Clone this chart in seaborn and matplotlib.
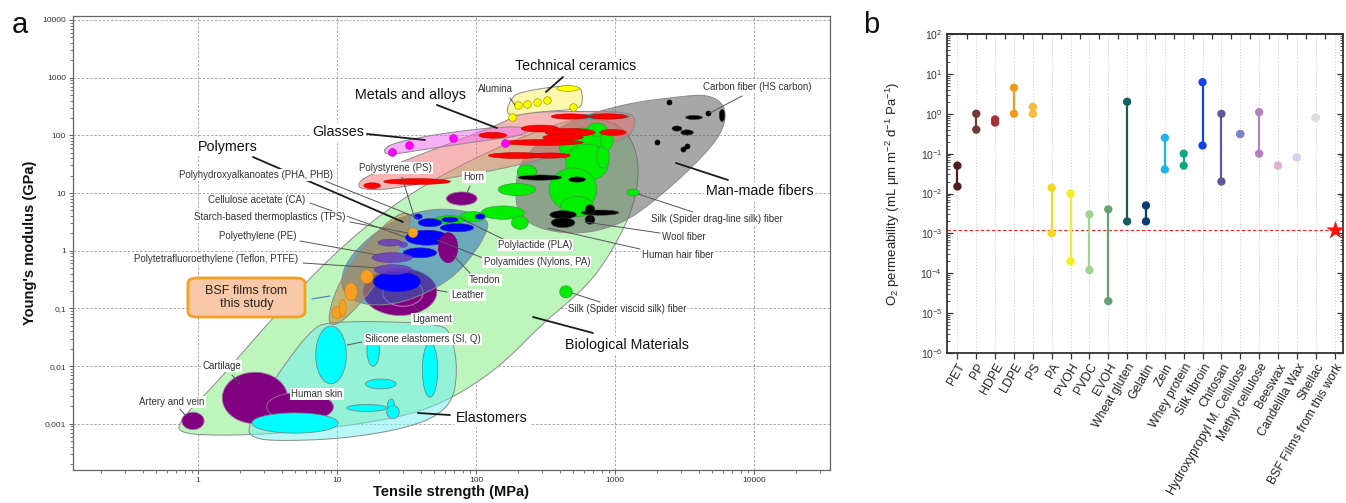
import numpy as np
import pandas as pd
import matplotlib
matplotlib.use("Agg")
import matplotlib.pyplot as plt
import seaborn as sns
from matplotlib.patches import FancyBboxPatch
from matplotlib.ticker import LogLocator, FixedLocator, FixedFormatter, NullFormatter

# ---------------- Panel a data (Ashby chart, strength MPa / modulus GPa) ----------------
# envelope outlines
bio_S = [0.72, 1.70, 5.42, 28.4, 65, 149, 303, 629, 968, 1393, 1513, 1180, 718, 402, 90.5, 28.4, 10.5, 3.7, 1.32, 0.74]
bio_E = [0.00067, 0.00062, 0.00072, 0.00126, 0.00259, 0.0097, 0.056, 0.237, 1.04, 6.3, 38, 137, 204, 174, 38, 7.7, 1.13, 0.084, 0.0047, 0.00116]
elas_S = [2.25, 2.45, 3.89, 12.4, 39.5, 67, 74, 67, 55, 8.9, 6.4, 3.3]
elas_E = [0.00088, 0.00056, 0.0005, 0.00056, 0.00095, 0.0021, 0.0086, 0.035, 0.056, 0.061, 0.042, 0.0047]
poly_S = [126, 116, 76.7, 46.7, 26, 14.6, 10.5, 11.4, 18.8, 33.5, 65]
poly_E = [3.74, 1.68, 0.43, 0.194, 0.115, 0.115, 0.21, 0.64, 2.14, 4.57, 5.58]
bsf_S = [8.5, 9.7, 12.4, 20.4, 30.8, 34.7, 30.8, 24, 14.6, 9.7]
bsf_E = [0.058, 0.05, 0.077, 0.314, 1.55, 3.74, 4.75, 3.45, 1.04, 0.21]
fiber_S = [191, 207, 402, 1087, 2937, 4820, 6390, 5890, 3467, 1786, 1087, 560, 289, 200]
fiber_E = [11.5, 38, 154, 343, 472, 511, 304, 103, 25.5, 6.3, 2.83, 1.9, 2.32, 4.2]
metal_S = [14.2, 17.3, 39.5, 149, 207, 402, 1282, 1439, 1241, 560, 149, 55, 24, 14.6]
metal_E = [15.2, 20.9, 46.4, 154, 249, 259, 259, 174, 84.6, 56.7, 25.5, 17.1, 11.5, 11.5]
glass_S = [21.4, 26, 55, 149, 245, 225, 90.5, 33.5, 23]
glass_E = [56.7, 75, 107, 142, 137, 100, 75, 52, 45]
ceram_S = [162, 176, 207, 560, 589, 560, 289]
ceram_E = [204, 418, 576, 795, 418, 281, 259]

# individual materials: centre strength, centre modulus, spread (decades) in strength / modulus
red_S = [17.9, 37.7, 132, 475, 891, 289, 475, 423, 968, 303, 197, 341]
red_E = [13.4, 15.8, 100, 212, 212, 131, 112, 92, 112, 75, 44.6, 44.6]
red_dS = [0.12, 0.48, 0.20, 0.27, 0.27, 0.27, 0.36, 0.29, 0.19, 0.58, 0.41, 0.29]
red_dE = [0.10, 0.10, 0.10, 0.09, 0.09, 0.12, 0.14, 0.10, 0.10, 0.10, 0.10, 0.09]
teal_S, teal_E, teal_dS, teal_dE = [820], [212], [0.38], [0.09]
alu_big_S, alu_big_E, alu_big_dS, alu_big_dE = [459], [649], [0.16], [0.10]
nat_S = [233, 197, 589, 629, 499, 533, 156, 95, 207, 820, 876, 1349, 65, 743, 444]
nat_E = [23.5, 11.5, 64, 33.7, 11.5, 5.8, 4.57, 3.9, 3.06, 42.9, 84.6, 10.2, 3.45, 126, 0.194]
nat_dS = [0.14, 0.27, 0.34, 0.31, 0.34, 0.24, 0.31, 0.19, 0.12, 0.09, 0.09, 0.09, 0.22, 0.14, 0.09]
nat_dE = [0.23, 0.21, 0.64, 0.64, 0.75, 0.35, 0.23, 0.17, 0.23, 0.40, 0.35, 0.12, 0.14, 0.23, 0.21]
mm_S = [289, 533, 423, 423, 780, 661, 661, 3700, 5890, 2790, 3300]
mm_E = [18.5, 17.1, 4.2, 3.06, 4.57, 5.15, 3.45, 204, 221, 131, 112]
mm_dS = [0.31, 0.12, 0.19, 0.17, 0.27, 0.07, 0.07, 0.12, 0.04, 0.07, 0.09]
mm_dE = [0.09, 0.09, 0.14, 0.17, 0.09, 0.17, 0.16, 0.07, 0.21, 0.09, 0.09]
blue_S = [38.3, 46.7, 65, 107, 73, 44.4, 39.5, 27]
blue_E = [3.9, 3.06, 3.45, 3.9, 2.5, 1.68, 0.92, 0.29]
blue_dS = [0.06, 0.17, 0.12, 0.07, 0.24, 0.31, 0.24, 0.34]
blue_dE = [0.09, 0.14, 0.09, 0.09, 0.14, 0.26, 0.17, 0.35]
pe_S = [24, 24.9, 25.3, 30]
pe_E = [1.38, 0.76, 0.47, 1.27]
pe_dS = [0.17, 0.29, 0.27, 0.06]
pe_dE = [0.12, 0.17, 0.17, 0.09]
tissue_S = [79, 28.4, 2.57, 5.42, 0.92]          # horn, leather, cartilage, human skin, artery
tissue_E = [8.0, 0.194, 0.0028, 0.00196, 0.00112]
tissue_dS = [0.22, 0.53, 0.47, 0.48, 0.16]
tissue_dE = [0.23, 0.82, 0.89, 0.50, 0.30]
tendon_S, tendon_E, tendon_dS, tendon_dE = [63], [1.13], [0.14], [0.52]
ligament_S, ligament_E, ligament_dS, ligament_dE = [29.8], [0.187], [0.29], [0.47]
cy_S = [4.99, 9.06, 18.2, 20.7, 16.4, 24.5, 25.3, 46.7]
cy_E = [0.00103, 0.0156, 0.0191, 0.0049, 0.00188, 0.0021, 0.0016, 0.0086]
cy_dS = [0.62, 0.22, 0.09, 0.22, 0.29, 0.05, 0.09, 0.11]
cy_dE = [0.35, 1.0, 0.57, 0.17, 0.12, 0.21, 0.23, 0.95]
bsfpt_S = [10, 11, 12.6, 16.4, 35.2]
bsfpt_E = [0.084, 0.102, 0.194, 0.354, 2.05]
bsfpt_dS = [0.07, 0.05, 0.09, 0.09, 0.07]
bsfpt_dE = [0.21, 0.30, 0.31, 0.23, 0.17]
alumina_S = [182, 200, 233, 275, 324, 499]
alumina_E = [204, 329, 343, 371, 402, 304]
glassdot_S = [24.9, 33, 68, 162]
glassdot_E = [52, 69, 91.6, 75]
carbon_S = [2445, 4670, 2005, 3300, 3085]
carbon_E = [371, 239, 78, 66.5, 59]

x_ticks_a = [1, 10, 100, 1000, 10000]
x_ticklabels_a = ["1", "10", "100", "1000", "10000"]
y_ticks_a = [0.001, 0.01, 0.1, 1, 10, 100, 1000, 10000]
y_ticklabels_a = ["0,001", "0,01", "0,1", "1", "10", "100", "1000", "10000"]

# ---------------- Panel b data (O2 permeability) ----------------
materials = ["PET", "PP", "HDPE", "LDPE", "PS", "PA", "PVOH", "PVDC", "EVOH", "Wheat gluten",
             "Gelatin", "Zein", "Whey protein", "Silk fibroin", "Chitosan",
             "Hydroxypropyl M. Cellulose", "Methyl cellulose", "Beeswax", "Candelilla Wax",
             "Shellac", "BSF Films from this work"]
perm_high = [0.05, 1.0, 0.72, 4.5, 1.5, 0.014, 0.01, 0.003, 0.004, 2.0, 0.005, 0.25, 0.1, 6.2,
             1.0, 0.31, 1.1, 0.05, 0.08, 0.8, 1.25e-3]
perm_low = [0.015, 0.4, 0.6, 1.0, 1.0, 0.001, 2e-4, 1.2e-4, 2e-5, 0.002, 0.002, 0.04, 0.05, 0.16,
            0.02, 0.31, 0.1, 0.05, 0.08, 0.8, 1.25e-3]
mat_colors = ["#4f1f1f", "#6e3c34", "#a5303a", "#ef9a1a", "#f8bb3c", "#f2d81e", "#f0f020",
              "#a3d392", "#67a070", "#165e5c", "#0b3d6e", "#1fb3e6", "#13a884", "#1442e6",
              "#62579a", "#7a86c8", "#b57fc0", "#e3b3d6", "#dcd2f0", "#d8e0e4", "#ff0000"]

# ---------------- style ----------------
sns.set_theme(style="ticks")
plt.rcParams["font.family"] = ["Liberation Sans", "DejaVu Sans"]
plt.rcParams["mathtext.fontset"] = "custom"
plt.rcParams["mathtext.rm"] = "Liberation Sans"
plt.rcParams["mathtext.it"] = "Liberation Sans:italic"
plt.rcParams["mathtext.bf"] = "Liberation Sans:bold"

fig = plt.figure(figsize=(13.46, 5.03), dpi=100)
ax = fig.add_axes([0.0542, 0.0656, 0.5624, 0.9026])
axb = fig.add_axes([0.7036, 0.2982, 0.2942, 0.6342])


def chaikin(xs, ys, n=3):
    p = np.column_stack([xs, ys])
    for _ in range(n):
        q = np.roll(p, -1, axis=0)
        a = 0.75 * p + 0.25 * q
        b = 0.25 * p + 0.75 * q
        p = np.empty((2 * len(a), 2))
        p[0::2] = a
        p[1::2] = b
    return p[:, 0], p[:, 1]


def envelope(S, E, fc, alpha, z, ec="#8a8a8a"):
    lx, ly = chaikin(np.log10(S), np.log10(E))
    ax.fill(10 ** lx, 10 ** ly, fc=fc, alpha=alpha, ec="none", zorder=z)
    ax.plot(10 ** np.append(lx, lx[0]), 10 ** np.append(ly, ly[0]), color=ec, lw=0.7, zorder=z)


T = np.linspace(0, 2 * np.pi, 90)


def ellipses(S, E, dS, dE, fc, ec, lw=0.5, alpha=1.0, z=3.0):
    for s, e, w, h in zip(S, E, dS, dE):
        lx = np.log10(s) + w / 2 * np.cos(T)
        ly = np.log10(e) + h / 2 * np.sin(T)
        ax.fill(10 ** lx, 10 ** ly, fc=fc, ec=ec, lw=lw, alpha=alpha, zorder=z)


ax.set_xscale("log")
ax.set_yscale("log")
ax.set_xlim(0.126, 35200)
ax.set_ylim(1.58e-4, 11700)

# envelopes
envelope(bio_S, bio_E, "#bdf5bd", 1.0, 1.0)
envelope(elas_S, elas_E, "#70f0f0", 0.5, 1.1)
envelope(fiber_S, fiber_E, "#606060", 0.55, 1.2)
envelope(metal_S, metal_E, "#f07070", 0.5, 1.3)
envelope(glass_S, glass_E, "#f070f0", 0.55, 1.4)
envelope(ceram_S, ceram_E, "#fbf59a", 0.8, 1.5)

# biological tissues and elastomers
ellipses(tissue_S, tissue_E, tissue_dS, tissue_dE, "#800080", "#a070a0", lw=0.6, z=2.0)
ellipses(ligament_S, ligament_E, ligament_dS, ligament_dE, "none", "#c070c0", lw=0.8, z=2.1)
ellipses(cy_S, cy_E, cy_dS, cy_dE, "#00ffff", "#6a8a8a", lw=0.6, z=2.2)

envelope(poly_S, poly_E, "#2a6cb8", 0.55, 2.5)
envelope(bsf_S, bsf_E, "#c08040", 0.55, 2.6)

ellipses(nat_S, nat_E, nat_dS, nat_dE, "#00ee00", "#3c9a3c", lw=0.5, z=3.0)
ellipses(mm_S, mm_E, mm_dS, mm_dE, "#000000", "#333333", lw=0.4, z=3.1)
ellipses(blue_S, blue_E, blue_dS, blue_dE, "#0000ff", "#2a2aa0", lw=0.4, z=3.2)
ellipses(pe_S, pe_E, pe_dS, pe_dE, "#6a3cc0", "#5030a0", lw=0.4, alpha=0.85, z=3.3)
ellipses(tendon_S, tendon_E, tendon_dS, tendon_dE, "#800080", "#800080", lw=0.4, z=3.4)
ellipses(teal_S, teal_E, teal_dS, teal_dE, "#1aa0a0", "#1aa0a0", lw=0.4, z=3.5)
ellipses(red_S, red_E, red_dS, red_dE, "#ff0000", "#c00000", lw=0.4, z=3.6)
ellipses(alu_big_S, alu_big_E, alu_big_dS, alu_big_dE, "#ffff00", "#a0a000", lw=0.5, z=3.6)
ellipses(bsfpt_S, bsfpt_E, bsfpt_dS, bsfpt_dE, "#f5a020", "#d08010", lw=0.4, z=3.7)

sns.scatterplot(x=alumina_S, y=alumina_E, s=30, color="#ffff00", edgecolor="#a0a000",
                linewidth=0.5, ax=ax, zorder=4, legend=False)
sns.scatterplot(x=glassdot_S, y=glassdot_E, s=32, color="#ff00ff", edgecolor="#c000c0",
                linewidth=0.4, ax=ax, zorder=4, legend=False)
sns.scatterplot(x=carbon_S, y=carbon_E, s=14, color="#000000", edgecolor="#000000",
                linewidth=0.3, ax=ax, zorder=4, legend=False)

# axes formatting
ax.xaxis.set_major_locator(FixedLocator(x_ticks_a))
ax.xaxis.set_major_formatter(FixedFormatter(x_ticklabels_a))
ax.yaxis.set_major_locator(FixedLocator(y_ticks_a))
ax.yaxis.set_major_formatter(FixedFormatter(y_ticklabels_a))
ax.xaxis.set_minor_locator(LogLocator(base=10, subs=np.arange(2, 10), numticks=30))
ax.yaxis.set_minor_locator(LogLocator(base=10, subs=np.arange(2, 10), numticks=30))
ax.xaxis.set_minor_formatter(NullFormatter())
ax.yaxis.set_minor_formatter(NullFormatter())
ax.tick_params(which="both", direction="out", labelsize=6, colors="#444444",
               labelcolor="#333333", bottom=True, left=True, top=False, right=False)
ax.tick_params(which="major", length=3, width=0.6, pad=2)
ax.tick_params(which="minor", length=2, width=0.5)
ax.set_axisbelow(True)
ax.grid(True, which="major", ls=(0, (3, 2)), color="#9a9a9a", lw=0.6)
for sp in ax.spines.values():
    sp.set_color("#666666")
    sp.set_linewidth(0.9)
    sp.set_visible(True)
ax.set_xlabel("Tensile strength (MPa)", fontsize=10.5, fontweight="bold", color="#111111")
ax.set_ylabel("Young's modulus (GPa)", fontsize=10.5, fontweight="bold", color="#111111")
ax.xaxis.set_label_coords(0.499, -0.033)
ax.yaxis.set_label_coords(-0.048, 0.5)

# labels (axes-fraction layout positions)
box = dict(boxstyle="square,pad=0.12", fc="white", ec="none")
big_labels = [
    ("Technical ceramics", 0.6645, 0.8899),
    ("Metals and alloys", 0.4452, 0.8260),
    ("Glasses", 0.3501, 0.7445),
    ("Polymers", 0.2048, 0.7115),
    ("Man-made fibers", 0.9075, 0.6145),
    ("Biological Materials", 0.7318, 0.2753),
    ("Elastomers", 0.5535, 0.1145),
]
small_labels = [
    ("Alumina", 0.5588, 0.8392),
    ("Carbon fiber (HS carbon)", 0.9036, 0.8436),
    ("Polyhydroxyalkanoates (PHA, PHB)", 0.2417, 0.6498),
    ("Cellulose acetate (CA)", 0.2431, 0.5947),
    ("Starch-based thermoplastics (TPS)", 0.2602, 0.5573),
    ("Polyethylene (PE)", 0.2444, 0.5154),
    ("Polytetrafluoroethylene (Teflon, PTFE)", 0.1889, 0.4648),
    ("Polystyrene (PS)", 0.4254, 0.6652),
    ("Horn", 0.5297, 0.6454),
    ("Polylactide (PLA)", 0.6103, 0.4956),
    ("Polyamides (Nylons, PA)", 0.6129, 0.4581),
    ("Tendon", 0.5443, 0.4185),
    ("Leather", 0.5218, 0.3855),
    ("Ligament", 0.4742, 0.3326),
    ("Silicone elastomers (SI, Q)", 0.4624, 0.2885),
    ("Cartilage", 0.1968, 0.2291),
    ("Human skin", 0.3223, 0.1674),
    ("Artery and vein", 0.1308, 0.1498),
    ("Silk (Spider viscid silk) fiber", 0.7318, 0.3546),
    ("Human hair fiber", 0.7992, 0.4736),
    ("Wool fiber", 0.8071, 0.5132),
    ("Silk (Spider drag-line silk) fiber", 0.8507, 0.5529),
]
thick_leaders = [
    ((0.6473, 0.8656), (0.6248, 0.8326)),
    ((0.4808, 0.8040), (0.5601, 0.7533)),
    ((0.3884, 0.7401), (0.4650, 0.7269)),
    ((0.2378, 0.6894), (0.4359, 0.5463)),
    ((0.8653, 0.6388), (0.7966, 0.6762)),
    ((0.6869, 0.3018), (0.6077, 0.3370)),
    ((0.4980, 0.1211), (0.4557, 0.1256)),
]
thin_leaders = [
    ((0.5773, 0.8194), (0.5839, 0.8040)),
    ((0.8838, 0.8238), (0.8415, 0.7863)),
    ((0.3329, 0.6366), (0.4557, 0.5551)),
    ((0.3131, 0.5881), (0.4386, 0.5132)),
    ((0.3659, 0.5463), (0.4425, 0.5220)),
    ((0.2999, 0.5044), (0.4029, 0.4736)),
    ((0.3038, 0.4559), (0.4055, 0.4449)),
    ((0.4346, 0.6454), (0.4505, 0.5595)),
    ((0.5244, 0.6256), (0.5205, 0.6101)),
    ((0.5707, 0.5066), (0.5112, 0.5551)),
    ((0.5416, 0.4670), (0.4808, 0.5066)),
    ((0.5244, 0.4339), (0.5020, 0.4736)),
    ((0.4941, 0.3921), (0.4795, 0.3965)),
    ((0.4584, 0.3480), (0.4478, 0.3634)),
    ((0.3818, 0.2819), (0.3620, 0.2753)),
    ((0.2100, 0.2093), (0.2206, 0.1894)),
    ((0.1413, 0.1344), (0.1493, 0.1189)),
    ((0.6962, 0.3700), (0.6592, 0.3899)),
    ((0.7490, 0.4868), (0.6275, 0.5330)),
    ((0.7754, 0.5220), (0.6764, 0.5463)),
    ((0.8190, 0.5683), (0.7464, 0.6079)),
]
for p0, p1 in thick_leaders:
    ax.plot([p0[0], p1[0]], [p0[1], p1[1]], transform=ax.transAxes, color="#1a1a1a", lw=1.3, zorder=9)
for p0, p1 in thin_leaders:
    ax.plot([p0[0], p1[0]], [p0[1], p1[1]], transform=ax.transAxes, color="#555555", lw=0.7, zorder=9)
ax.plot([0.3157, 0.3395], [0.3767, 0.3833], transform=ax.transAxes, color="#4a78c0", lw=0.8, zorder=9)

for txt, fx, fy in big_labels:
    ax.text(fx, fy, txt, transform=ax.transAxes, ha="center", va="center", fontsize=10.3,
            color="#111111", bbox=box, zorder=10)
for txt, fx, fy in small_labels:
    ax.text(fx, fy, txt, transform=ax.transAxes, ha="center", va="center", fontsize=7,
            color="#333333", bbox=box, zorder=10)

bsf_box = FancyBboxPatch((0.1519, 0.337), 0.1546, 0.0859, boxstyle="round,pad=0,rounding_size=0.012",
                         transform=ax.transAxes, fc="#f8c8a8", ec="#f5a020", lw=2, zorder=10)
ax.add_patch(bsf_box)
ax.text(0.2292, 0.3805, "BSF films from\nthis study", transform=ax.transAxes, ha="center",
        va="center", fontsize=9, color="#222222", linespacing=1.15, zorder=11)

# ---------------- Panel b ----------------
pos = np.arange(len(materials))
n_ref = len(materials) - 1
df = pd.DataFrame({
    "material": materials[:n_ref] * 2,
    "pos": list(pos[:n_ref]) * 2,
    "permeability": perm_high[:n_ref] + perm_low[:n_ref],
})
palette = dict(zip(materials, mat_colors))

axb.set_yscale("log")
axb.set_ylim(1e-6, 1e2)
axb.set_xlim(-0.55, len(materials) - 0.55)
axb.vlines(pos[:n_ref], perm_low[:n_ref], perm_high[:n_ref], colors=mat_colors[:n_ref], lw=1.6, zorder=2)
sns.scatterplot(data=df, x="pos", y="permeability", hue="material", palette=palette, s=36,
                linewidth=0, legend=False, ax=axb, zorder=3)
axb.axhline(perm_high[-1], color="#ff2020", ls=(0, (3, 2)), lw=0.8, zorder=1)
sns.scatterplot(x=[pos[-1]], y=[perm_high[-1]], marker="*", s=170, color="#ff1010",
                edgecolor="#ff1010", linewidth=0.3, ax=axb, zorder=5, clip_on=False, legend=False)

axb.set_xticks(pos)
axb.set_xticklabels(materials, rotation=60, ha="right", rotation_mode="anchor", fontsize=8.8,
                    color="#222222")
axb.set_xlabel("")
axb.set_ylabel(r"O$_2$ permeability (mL μm m$^{-2}$ d$^{-1}$ Pa$^{-1}$)", fontsize=9.5,
               color="#222222")
axb.yaxis.set_label_coords(-0.115, 0.5)
axb.yaxis.set_major_locator(LogLocator(base=10, numticks=20))
axb.yaxis.set_minor_locator(LogLocator(base=10, subs=np.arange(2, 10), numticks=20))
axb.yaxis.set_minor_formatter(NullFormatter())
axb.tick_params(axis="y", which="both", direction="in", left=True, right=True, labelsize=7.5,
                labelcolor="#333333", color="#333333")
axb.tick_params(axis="y", which="major", length=4, width=0.9)
axb.tick_params(axis="y", which="minor", length=2.2, width=0.6)
axb.tick_params(axis="x", which="major", direction="out", length=4, width=0.9, bottom=True,
                top=False, color="#333333", pad=2)
axb.grid(True, axis="x", ls=(0, (1, 2)), color="#c8c8c8", lw=0.7)
axb.set_axisbelow(True)
top = axb.secondary_xaxis("top")
top.set_xticks(pos[:-1] + 0.5)
top.set_xticklabels([])
top.tick_params(direction="in", length=3.5, width=0.9, color="#333333")
for sp in list(axb.spines.values()) + list(top.spines.values()):
    sp.set_color("#333333")
    sp.set_linewidth(1.3)

fig.text(0.0089, 0.934, "a", fontsize=21, color="#111111", va="baseline")
fig.text(0.6412, 0.934, "b", fontsize=21, color="#111111", va="baseline")

fig.savefig("out.png", dpi=100)
